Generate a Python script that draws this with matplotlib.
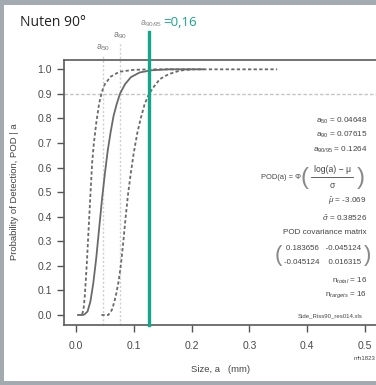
import numpy as np
import matplotlib
matplotlib.use('Agg')
import matplotlib.pyplot as plt
from matplotlib.patches import Rectangle
from matplotlib.lines import Line2D
from matplotlib import rcParams

rcParams['font.family'] = ['Liberation Sans', 'DejaVu Sans']
rcParams['mathtext.fontset'] = 'custom'
rcParams['mathtext.rm'] = 'Liberation Sans'
rcParams['mathtext.it'] = 'Liberation Sans:italic'
rcParams['mathtext.sf'] = 'Liberation Sans'

# POD curve (median fit)
pod_a = [0.008, 0.012, 0.015, 0.020, 0.025, 0.030, 0.035, 0.040, 0.045, 0.050,
         0.055, 0.060, 0.065, 0.070, 0.076, 0.085, 0.095, 0.110, 0.130, 0.160, 0.220]
pod_p = [0.0, 0.0, 0.003, 0.014, 0.055, 0.13, 0.23, 0.35, 0.47, 0.575,
         0.67, 0.745, 0.81, 0.855, 0.90, 0.94, 0.968, 0.987, 0.996, 1.0, 1.0]

# upper confidence bound (left dashed)
up_a = [0.002, 0.010, 0.013, 0.015, 0.017, 0.019, 0.021, 0.023, 0.025, 0.028,
        0.031, 0.035, 0.040, 0.045, 0.050, 0.060, 0.075, 0.100, 0.130, 0.200]
up_p = [0.0, 0.0, 0.02, 0.07, 0.14, 0.22, 0.31, 0.40, 0.49, 0.62,
        0.70, 0.78, 0.86, 0.91, 0.94, 0.97, 0.99, 0.998, 1.0, 1.0]

# lower confidence bound (right dashed)
lo_a = [0.044, 0.056, 0.062, 0.066, 0.070, 0.074, 0.078, 0.082, 0.086, 0.090,
        0.095, 0.100, 0.106, 0.112, 0.119, 0.1264, 0.135, 0.145, 0.160, 0.180,
        0.200, 0.348]
lo_p = [0.0, 0.0, 0.02, 0.05, 0.09, 0.14, 0.21, 0.30, 0.40, 0.49,
        0.58, 0.66, 0.74, 0.80, 0.86, 0.90, 0.93, 0.96, 0.98, 0.995,
        1.0, 1.0]

a50 = 0.04648
a90 = 0.07615
a9095 = 0.1264

xticks = [0.0, 0.1, 0.2, 0.3, 0.4, 0.5]
yticks = [0.0, 0.1, 0.2, 0.3, 0.4, 0.5, 0.6, 0.7, 0.8, 0.9, 1.0]

W, H = 376, 385
fig = plt.figure(figsize=(W / 100, H / 100), dpi=100, facecolor='#a3abb0')
fig.patches.append(Rectangle((4 / W, 4 / H), 1, (H - 9) / H, transform=fig.transFigure,
                             facecolor='white', edgecolor='none', zorder=-5))


def px(x, y):
    return x / W, 1 - y / H


ax = fig.add_axes([64.4 / W, (H - 324.8) / H, 312.2 / W, 265.3 / H])
ax.set_xlim(-0.02, 0.52)
ax.set_ylim(-0.04, 1.04)

grey = '#6a6a6a'
ax.axhline(0.9, color='#c4c4c4', lw=1, dashes=(2.5, 1.5))
for v, top in [(a50, 1.057), (a90, 1.106)]:
    ax.plot([v, v], [-0.04, top], color='#cfcfcf', lw=1, dashes=(1.5, 1.5), clip_on=False)
ax.plot([a9095, a9095], [-0.04, 1.15], color='#15a58a', lw=2.4, clip_on=False, zorder=5)

ax.plot(pod_a, pod_p, color=grey, lw=1.3)
ax.plot(up_a, up_p, color=grey, lw=1.3, dashes=(1.8, 1.3))
ax.plot(lo_a, lo_p, color=grey, lw=1.3, dashes=(1.8, 1.3))

ax.set_xticks(xticks)
ax.set_xticklabels([f'{t:.1f}' for t in xticks])
ax.set_yticks(yticks)
ax.set_yticklabels([f'{t:.1f}' for t in yticks])
ax.tick_params(length=5, width=1, color='#555555', labelcolor='#4a4a4a',
               labelsize=7.5, pad=4)
ax.tick_params(axis='x', pad=7)
for s in ax.spines.values():
    s.set_color('#5a5a5a')
    s.set_linewidth(1.2)

ax.set_xlabel('Size, a   (mm)', fontsize=6.8, color='#444444', labelpad=10)
ax.set_ylabel('Probability of Detection, POD | a', fontsize=6.8, color='#444444', labelpad=13)

# labels above the plot
fig.text(*px(20, 22), 'Nuten 90°', fontsize=10, color='#222222', family='Open Sans', va='center')
fig.text(*px(162, 24), r'a$_{90/95}$', fontsize=6.5, color='#888888', ha='right', va='center')
fig.text(*px(163, 22), '=0,16', fontsize=9.5, color='#15a58a', family='Open Sans', va='center')
fig.text(*px(103, 48), r'a$_{50}$', fontsize=6.5, color='#777777', ha='center', va='center')
fig.text(*px(120, 36), r'a$_{90}$', fontsize=6.5, color='#777777', ha='center', va='center')

# statistics block
tc = '#444444'
pc = '#888888'
fs = 5.9
R = 367
fig.text(*px(R, 121), r'a$_{50}$ = 0.04648', fontsize=fs, color=tc, ha='right', va='center')
fig.text(*px(R, 135), r'a$_{90}$ = 0.07615', fontsize=fs, color=tc, ha='right', va='center')
fig.text(*px(R, 150), r'a$_{90/95}$ = 0.1264', fontsize=fs, color=tc, ha='right', va='center')
# POD(a) = Phi( (log(a) - mu) / sigma )
fig.text(*px(301, 178), 'POD(a) = Φ', fontsize=5.4, color=tc, ha='right', va='center')
fig.text(*px(304, 178), '(', fontsize=17, color=pc, ha='center', va='center')
fig.text(*px(332, 169), 'log(a) − μ', fontsize=fs + 0.3, color=tc, ha='center', va='center')
fig.lines.append(Line2D([311 / W, 353 / W], [1 - 177 / H, 1 - 177 / H],
                        transform=fig.transFigure, color=tc, lw=0.6))
fig.text(*px(332, 186), 'σ', fontsize=fs + 0.3, color=tc, ha='center', va='center')
fig.text(*px(361, 178), ')', fontsize=17, color=pc, ha='center', va='center')
fig.text(*px(R, 201), r'$\hat{\mu}$ = -3.069', fontsize=fs, color=tc, ha='right', va='center')
fig.text(*px(R, 218), r'$\hat{\sigma}$ = 0.38526', fontsize=fs, color=tc, ha='right', va='center')
fig.text(*px(R, 232), 'POD covariance matrix', fontsize=fs, color=tc, ha='right', va='center')
fig.text(*px(R - 6, 248), '0.183656   -0.045124', fontsize=5.7, color=tc, ha='right', va='center')
fig.text(*px(R - 6, 263), '-0.045124    0.016315', fontsize=5.7, color=tc, ha='right', va='center')
fig.text(*px(278, 255), '(', fontsize=16, color=pc, ha='center', va='center')
fig.text(*px(368, 255), ')', fontsize=16, color=pc, ha='center', va='center')
fig.text(*px(R, 281), r'n$_{total}$ = 16', fontsize=fs, color=tc, ha='right', va='center')
fig.text(*px(R, 295), r'n$_{targets}$ = 16', fontsize=fs, color=tc, ha='right', va='center')
fig.text(*px(363, 316), 'Side_Riss90_res014.xls', fontsize=4.3, color=tc, ha='right', va='center')
fig.text(*px(376, 359), 'mh1823', fontsize=4.3, color=tc, ha='right', va='center')

fig.savefig('out.png', dpi=100, facecolor=fig.get_facecolor())
